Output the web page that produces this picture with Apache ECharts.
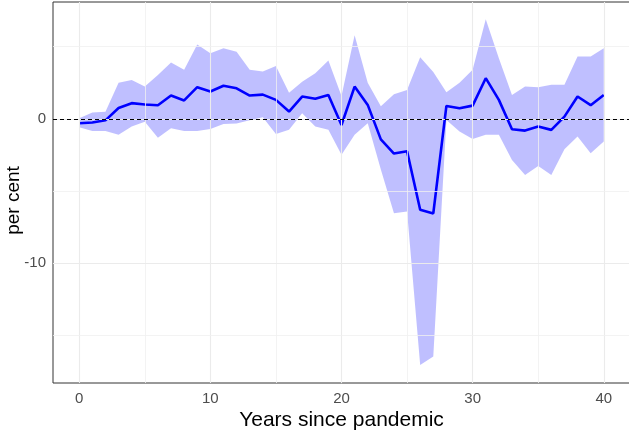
<!DOCTYPE html>
<html>
<head>
<meta charset="utf-8">
<script src="https://cdn.jsdelivr.net/npm/echarts@6/dist/echarts.min.js"></script>
<style>
html,body{margin:0;padding:0;background:#fff;}
#chart{width:629px;height:430px;}
</style>
</head>
<body>
<div id="chart"></div>
<script>
var years = [];
for (var i = 0; i <= 40; i++) years.push(i);

var meanValues = [-0.3,-0.25,-0.1,0.75,1.09,1.0,0.95,1.62,1.28,2.2,
  1.9,2.3,2.12,1.62,1.68,1.32,0.51,1.55,1.39,1.66,
  -0.42,2.24,0.97,-1.42,-2.4,-2.24,-6.3,-6.55,0.9,0.74,
  0.92,2.82,1.32,-0.72,-0.81,-0.53,-0.76,0.16,1.55,0.95,1.66];

var upperValues = [0.05,0.44,0.49,2.5,2.7,2.24,3.05,3.9,3.4,5.15,
  4.55,4.9,4.66,3.4,3.28,3.67,1.82,2.58,3.17,4.04,
  1.58,5.8,2.5,0.87,1.7,2.0,4.27,3.25,1.85,2.5,
  3.4,6.9,4.2,1.66,2.24,2.2,2.36,2.36,4.32,4.32,4.9];

var lowerValues = [-0.58,-0.83,-0.83,-1.1,-0.53,-0.19,-1.3,-0.65,-0.83,-0.83,
  -0.7,-0.35,-0.32,-0.1,0.12,-1.04,-0.76,0.4,-0.53,-0.76,
  -2.48,-1.1,-0.3,-3.5,-6.54,-6.42,-17.05,-16.47,-0.07,-0.88,
  -1.4,-1.1,-1.1,-2.84,-3.88,-3.26,-3.88,-2.1,-1.22,-2.38,-1.57];

var xTickLabels = [0, 10, 20, 30, 40];
var xMinorBreaks = [5, 15, 25, 35];
var yTickLabels = [-10, 0];
var yMinorBreaks = [-15, -5, 5];

var bandData = years.map(function (y, i) { return [y, lowerValues[i], upperValues[i]]; });
var meanData = years.map(function (y, i) { return [y, meanValues[i]]; });

var gridLines = [];
xTickLabels.forEach(function (v) { gridLines.push({xAxis: v, lineStyle: {color: '#EBEBEB', width: 1.1, type: 'solid'}}); });
xMinorBreaks.forEach(function (v) { gridLines.push({xAxis: v, lineStyle: {color: '#F0F0F0', width: 0.8, type: 'solid'}}); });
yTickLabels.forEach(function (v) { gridLines.push({yAxis: v, lineStyle: {color: '#EBEBEB', width: 1.1, type: 'solid'}}); });
yMinorBreaks.forEach(function (v) { gridLines.push({yAxis: v, lineStyle: {color: '#F0F0F0', width: 0.8, type: 'solid'}}); });

function renderBand(params, api) {
  if (params.dataIndex !== 0) return null;
  var pts = [];
  for (var k = 0; k < years.length; k++) {
    pts.push(api.coord([years[k], upperValues[k]]));
  }
  for (var k2 = years.length - 1; k2 >= 0; k2--) {
    pts.push(api.coord([years[k2], lowerValues[k2]]));
  }
  return {
    type: 'polygon',
    shape: {points: pts},
    style: {fill: 'rgba(0,0,255,0.25)', stroke: null}
  };
}

var chart = echarts.init(document.getElementById('chart'), null, {renderer: 'canvas'});
chart.setOption({
  animation: false,
  backgroundColor: '#ffffff',
  textStyle: {fontFamily: 'Liberation Sans, Arial, sans-serif'},
  grid: {
    left: 53, top: 2, width: 577, height: 381,
    outerBoundsMode: 'none', containLabel: false,
    show: true, borderColor: '#333333', borderWidth: 1, backgroundColor: 'transparent'
  },
  xAxis: {
    type: 'value', min: -2, max: 42,
    axisLine: {show: false},
    splitLine: {show: false},
    axisTick: {show: true, customValues: xTickLabels, length: 4, lineStyle: {color: '#333333'}},
    axisLabel: {customValues: xTickLabels, color: '#4D4D4D', fontSize: 15, margin: 8},
    name: 'Years since pandemic', nameLocation: 'middle', nameGap: 27, nameMoveOverlap: false,
    nameTextStyle: {fontSize: 21, color: '#000000', verticalAlign: 'top'}
  },
  yAxis: {
    type: 'value', min: -18.3, max: 8.1,
    axisLine: {show: false},
    splitLine: {show: false},
    axisTick: {show: true, customValues: yTickLabels, length: 4, lineStyle: {color: '#333333'}},
    axisLabel: {customValues: yTickLabels, color: '#4D4D4D', fontSize: 15, margin: 7},
    name: 'per cent', nameLocation: 'middle', nameGap: 30, nameMoveOverlap: false,
    nameTextStyle: {fontSize: 19, color: '#000000', padding: [0, 16, 0, 0]}
  },
  series: [
    {
      type: 'line', data: [], silent: true, z: 1,
      markLine: {silent: true, symbol: ['none', 'none'], label: {show: false}, animation: false, data: gridLines}
    },
    {
      name: 'band', type: 'custom', data: bandData, renderItem: renderBand,
      encode: {x: 0, y: [1, 2]}, silent: true, z: 2, clip: true
    },
    {
      name: 'mean', type: 'line', data: meanData, symbol: 'none', z: 4,
      lineStyle: {color: '#0000FF', width: 2.6},
      markLine: {
        silent: true, symbol: ['none', 'none'], label: {show: false},
        data: [{yAxis: 0}],
        lineStyle: {color: '#000000', type: [4, 3], width: 1}
      }
    }
  ]
});
</script>
</body>
</html>
